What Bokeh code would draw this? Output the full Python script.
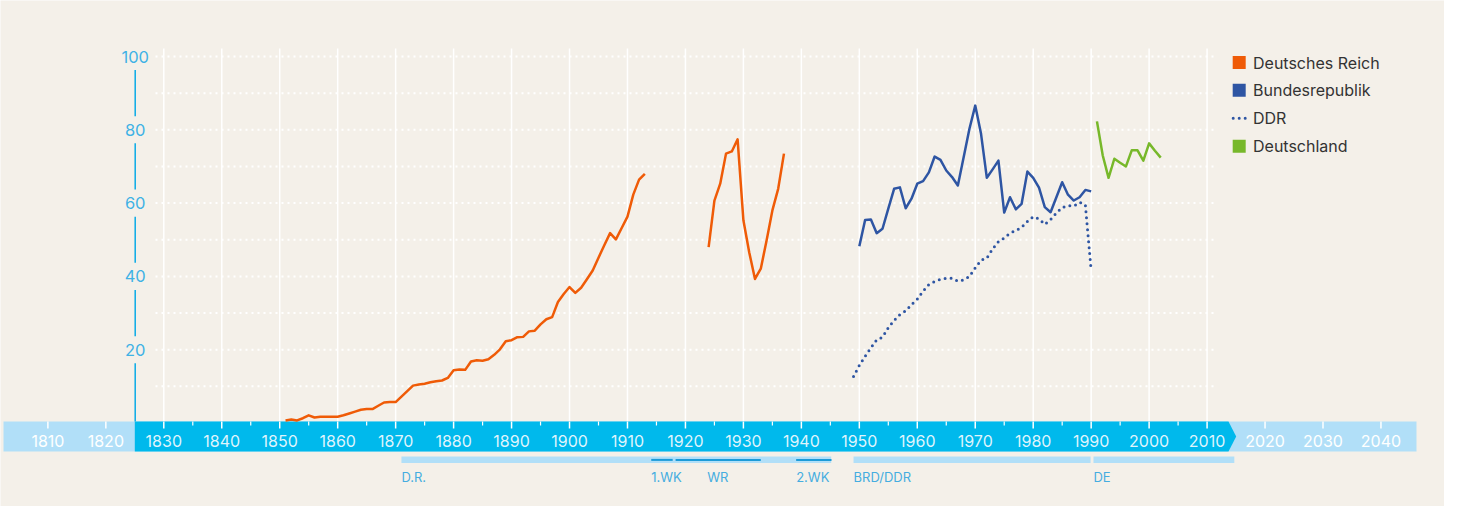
from bokeh.plotting import figure
from bokeh.models import Range1d
from bokeh.core.properties import value
from bokeh.embed import file_html
from bokeh.resources import INLINE

# ---------------- data ----------------
dr_years_1 = list(range(1851, 1914))
dr_values_1 = [0.7, 0.95, 0.7, 1.3, 2.1, 1.5, 1.7, 1.7, 1.7, 1.7,
               2.1, 2.6, 3.1, 3.6, 3.8, 3.8, 4.7, 5.6, 5.7, 5.7,
               7.2, 8.7, 10.2, 10.5, 10.7, 11.1, 11.4, 11.6, 12.3, 14.4,
               14.6, 14.5, 16.8, 17.1, 17.0, 17.4, 18.6, 20.1, 22.3, 22.6,
               23.4, 23.5, 25.0, 25.2, 26.9, 28.3, 28.9, 33.0, 35.2, 37.1,
               35.5, 36.9, 39.2, 41.6, 45.1, 48.5, 51.8, 50.1, 53.2, 56.3,
               62.3, 66.4, 68.0]
dr_years_2 = list(range(1924, 1938))
dr_values_2 = [48.0, 60.7, 65.3, 73.5, 74.1, 77.4, 55.3, 46.6, 39.3, 42.1,
               49.8, 58.0, 63.9, 73.5]
brd_years = list(range(1950, 1991))
brd_values = [48.2, 55.4, 55.5, 51.8, 53.0, 58.5, 63.9, 64.3, 58.6, 61.2,
              65.3, 66.0, 68.4, 72.7, 71.8, 68.9, 67.1, 64.8, 72.5, 80.3,
              86.6, 78.9, 66.9, 69.2, 71.6, 57.4, 61.6, 58.3, 59.8, 68.6,
              66.9, 64.2, 58.9, 57.5, 61.6, 65.7, 62.3, 60.7, 61.6, 63.6,
              63.2]
ddr_years = list(range(1949, 1991))
ddr_values = [12.7, 15.7, 18.2, 20.5, 22.7, 23.4, 26.0, 28.0, 29.6, 30.6,
              32.3, 33.8, 36.0, 37.8, 38.6, 39.2, 39.5, 39.5, 38.7, 39.0,
              40.0, 42.3, 44.4, 45.0, 47.5, 49.5, 50.5, 51.8, 52.5, 53.4,
              55.0, 56.3, 55.7, 54.2, 55.5, 57.3, 58.8, 59.3, 59.2, 60.2,
              59.5, 41.6]
de_years = list(range(1991, 2003))
de_values = [82.3, 73.0, 66.9, 72.1, 71.0, 70.0, 74.4, 74.4, 71.6, 76.3,
             74.3, 72.4]

legend_labels = ["Deutsches Reich", "Bundesrepublik", "DDR", "Deutschland"]
y_ticks = [20, 40, 60, 80, 100]
y_grid = [10, 20, 30, 40, 50, 60, 70, 80, 90, 100]
grid_years = list(range(1830, 2011, 10))
light_tick_years = [1810, 1820, 2020, 2030, 2040]
dark_tick_years = list(range(1830, 2011, 10))
minor_tick_years = list(range(1835, 2006, 10))

period_labels = ["D.R.", "BRD/DDR", "DE"]
period_start = [1871.0, 1949.0, 1990.4]
period_end = [1945.15, 1989.9, 2014.7]
sub_labels = ["1.WK", "WR", "2.WK"]
sub_start = [1914.1, 1918.3, 1939.1]
sub_end = [1917.8, 1933.0, 1945.2]

# ---------------- styling ----------------
BG = "#f4f0e9"
ORANGE = "#ef5b07"
BLUE = "#2e55a3"
GREEN = "#77b82a"
CYAN = "#00b9ec"
LIGHT = "#b1dff8"
AXIS = "#3fb2e5"
FONT = value("Inter")
W, H = 1444, 506


def X(px):
    return 1830 + (px - 163.3) / 5.796


def Y(py):
    return (422.5 - py) / 3.665


p = figure(width=W, height=H,
           x_range=Range1d(X(0), X(W)), y_range=Range1d(Y(H), Y(0)),
           x_axis_type=None, y_axis_type=None,
           output_backend="svg", toolbar_location=None, min_border=0,
           background_fill_color=BG, border_fill_color=BG,
           outline_line_color=None)

# grid
p.segment(x0=grid_years, y0=Y(421), x1=grid_years, y1=Y(48),
          line_color="white", line_width=1.5)
p.segment(x0=X(155), y0=y_grid, x1=X(1215), y1=y_grid,
          line_color="white", line_width=2, line_dash="2 4")

# time band
p.quad(left=X(3), right=X(1416), top=Y(421), bottom=Y(451),
       fill_color=LIGHT, line_color=None)
p.patch(x=[X(134.3), X(1228), X(1235.7), X(1228), X(134.3)],
        y=[Y(421), Y(421), Y(436), Y(451), Y(451)],
        fill_color=CYAN, line_color=None)
p.segment(x0=light_tick_years + dark_tick_years, y0=Y(421),
          x1=light_tick_years + dark_tick_years, y1=Y(428),
          line_color="white", line_width=1.5)
p.segment(x0=minor_tick_years, y0=Y(421), x1=minor_tick_years, y1=Y(425),
          line_color="white", line_width=1.2)
p.text(x=dark_tick_years, y=Y(440.5), text=[str(v) for v in dark_tick_years],
       text_align="center", text_baseline="middle", text_font=FONT,
       text_font_size="16px", text_color="#dff4fd")
p.text(x=light_tick_years, y=Y(440.5), text=[str(v) for v in light_tick_years],
       text_align="center", text_baseline="middle", text_font=FONT,
       text_font_size="16px", text_color="#ffffff")

# y axis with gaps around labels
gap = 3.7
seg_lo = [Y(421)] + [t + gap for t in y_ticks[:-1]]
seg_hi = [t - gap for t in y_ticks]
p.segment(x0=X(134.7), y0=seg_lo, x1=X(134.7), y1=seg_hi,
          line_color="#09aae6", line_width=1.5)
p.text(x=X(134.7), y=y_ticks, text=[str(t) for t in y_ticks],
       text_align="center", text_baseline="middle", text_font=FONT,
       text_font_size="16.5px", text_color=AXIS)

# period bars
p.quad(left=period_start, right=period_end, top=Y(456), bottom=Y(462.5),
       fill_color=LIGHT, line_color=None)
p.segment(x0=sub_start, y0=Y(459.4), x1=sub_end, y1=Y(459.4),
          line_color="#1c9bd8", line_width=2)
p.text(x=period_start, y=Y(476), text=period_labels, text_align="left",
       text_baseline="middle", text_font=FONT, text_font_size="13px",
       text_color="#45ade0")
sub_x = [sub_start[0], (sub_start[1] + sub_end[1]) / 2, sub_start[2]]
p.text(x=sub_x, y=Y(476), text=sub_labels, text_align="left",
       text_baseline="middle", text_font=FONT, text_font_size="13px",
       text_color="#45ade0", x_offset=[0, -11, 0])

# data lines
p.line(dr_years_1, dr_values_1, line_color=ORANGE, line_width=2.5, line_join="round")
p.line(dr_years_2, dr_values_2, line_color=ORANGE, line_width=2.5, line_join="round")
p.line(brd_years, brd_values, line_color=BLUE, line_width=2.5, line_join="round")
p.line(ddr_years, ddr_values, line_color=BLUE, line_width=3, line_dash="0 6",
       line_cap="round")
p.line(de_years, de_values, line_color=GREEN, line_width=2.5, line_join="round")

# legend
leg_y = [Y(62), Y(89.8), Y(117.7), Y(145.8)]
p.scatter(x=X(1238.7), y=[leg_y[0], leg_y[1], leg_y[3]], marker="square", size=13,
          fill_color=[ORANGE, BLUE, GREEN], line_color=None)
p.segment(x0=X(1232.7), y0=leg_y[2], x1=X(1245.8), y1=leg_y[2],
          line_color=BLUE, line_width=3, line_dash="0 6", line_cap="round")
p.text(x=X(1252.5), y=leg_y, text=legend_labels, text_align="left",
       text_baseline="middle", text_font=FONT, text_font_size="16px",
       text_color="#333333")

open("out.html", "w").write(file_html(p, INLINE))
